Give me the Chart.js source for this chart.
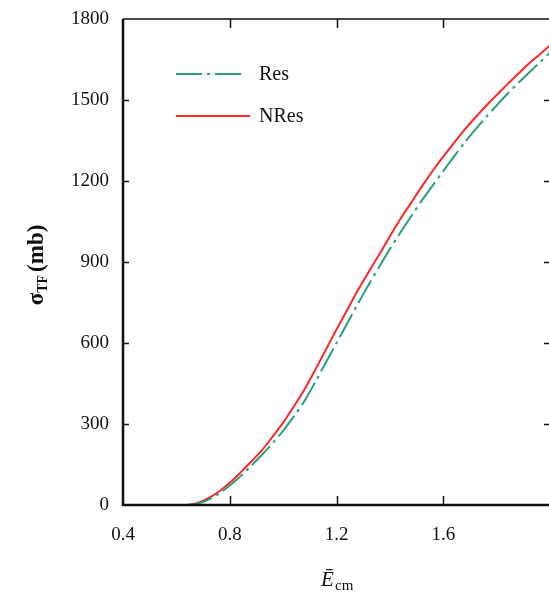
<!DOCTYPE html>
<html>
<head>
<meta charset="utf-8">
<script src="https://cdn.jsdelivr.net/npm/chart.js@4.4.1/dist/chart.umd.min.js"></script>
<style>
  html, body { margin: 0; padding: 0; background: #fff; overflow: hidden; }
  #wrap { width: 561px; height: 592px; }
</style>
</head>
<body>
<div id="wrap"><canvas id="sigmaChart" width="561" height="592"></canvas></div>
<script>
// reduced energy E_cm (x) and fusion cross section (mb)
const energies = [0.64, 0.68, 0.72, 0.76, 0.80, 0.84, 0.88, 0.92, 0.96, 1.00,
  1.04, 1.08, 1.12, 1.16, 1.20, 1.24, 1.28, 1.32, 1.36, 1.40,
  1.44, 1.48, 1.52, 1.56, 1.60, 1.64, 1.68, 1.72, 1.76, 1.80,
  1.84, 1.88, 1.92, 1.96, 2.00];
const resValues = [0, 5, 20, 42, 72, 106, 145, 185, 228, 275,
  328, 385, 455, 528, 600, 672, 745, 815, 882, 948,
  1010, 1070, 1128, 1183, 1237, 1290, 1342, 1390, 1436, 1480,
  1522, 1562, 1600, 1638, 1675];
const nresValues = [0, 8, 25, 50, 82, 120, 160, 202, 252, 305,
  365, 428, 500, 575, 650, 722, 795, 862, 928, 995,
  1060, 1120, 1180, 1237, 1290, 1340, 1390, 1435, 1478, 1518,
  1558, 1596, 1634, 1668, 1702];
const seriesNames = ['Res', 'NRes'];
const xTickValues = [0.4, 0.8, 1.2, 1.6, 2.0];
const yTickValues = [0, 300, 600, 900, 1200, 1500, 1800];

const SERIF = '"Liberation Serif", "DejaVu Serif", serif';
const GREEN = '#27a07a';
const RED = '#ff2626';

const toPoints = vals => energies.map((e, i) => ({ x: e, y: vals[i] }));

// frame, inward ticks, legend and axis titles
const framePlugin = {
  id: 'framePlugin',
  afterDraw(chart) {
    const ctx = chart.ctx;
    const a = chart.chartArea;
    const xs = chart.scales.x, ys = chart.scales.y;
    ctx.save();
    ctx.strokeStyle = '#111';

    // thin top / right
    ctx.lineWidth = 1.5;
    ctx.beginPath();
    ctx.moveTo(a.left, a.top); ctx.lineTo(a.right, a.top); ctx.lineTo(a.right, a.bottom);
    ctx.stroke();
    // thick left / bottom
    ctx.lineWidth = 2.5;
    ctx.beginPath();
    ctx.moveTo(a.left, a.top); ctx.lineTo(a.left, a.bottom); ctx.lineTo(a.right, a.bottom);
    ctx.stroke();

    ctx.lineWidth = 1.5;
    ctx.beginPath();
    xTickValues.forEach(v => {
      const px = Math.round(xs.getPixelForValue(v)) + 0.5;
      if (px <= a.left + 2 || px >= a.right - 2) return;
      ctx.moveTo(px, a.bottom); ctx.lineTo(px, a.bottom - 9);
      ctx.moveTo(px, a.top); ctx.lineTo(px, a.top + 9);
    });
    yTickValues.forEach(v => {
      const py = Math.round(ys.getPixelForValue(v)) + 0.5;
      if (py <= a.top + 2 || py >= a.bottom - 2) return;
      ctx.moveTo(a.left, py); ctx.lineTo(a.left + 6, py);
      ctx.moveTo(a.right, py); ctx.lineTo(a.right - 6, py);
    });
    ctx.stroke();

    // legend
    const ds = chart.data.datasets;
    const rows = [74, 116];
    ds.forEach((d, i) => {
      ctx.strokeStyle = d.borderColor;
      ctx.lineWidth = d.borderWidth;
      ctx.setLineDash(d.borderDash || []);
      ctx.beginPath();
      ctx.moveTo(176, rows[i]); ctx.lineTo(i === 0 ? 246 : 250, rows[i]);
      ctx.stroke();
      ctx.setLineDash([]);
      ctx.fillStyle = '#111';
      ctx.font = '20px ' + SERIF;
      ctx.textAlign = 'left';
      ctx.textBaseline = 'middle';
      ctx.fillText(d.label, 259, rows[i] + 1);
    });

    // x title: E bar with subscript cm
    ctx.fillStyle = '#111';
    ctx.textBaseline = 'alphabetic';
    ctx.textAlign = 'left';
    ctx.font = 'italic 21px ' + SERIF;
    ctx.fillText('\u0112', 321, 586);
    ctx.font = '15px ' + SERIF;
    ctx.fillText('cm', 335, 590);

    // y title: sigma_TF (mb), rotated
    ctx.translate(36, 265);
    ctx.rotate(-Math.PI / 2);
    ctx.textAlign = 'left';
    ctx.font = 'bold 23px ' + SERIF;
    const w1 = ctx.measureText('\u03c3').width;
    ctx.font = 'bold 14px ' + SERIF;
    const w2 = ctx.measureText('TF').width;
    ctx.font = 'bold 23px ' + SERIF;
    const w3 = ctx.measureText('(mb)').width;
    let sx = -(w1 + w2 + w3 + 3) / 2;
    ctx.fillText('\u03c3', sx, 7);
    sx += w1;
    ctx.font = 'bold 14px ' + SERIF;
    ctx.fillText('TF', sx, 11);
    sx += w2 + 3;
    ctx.font = 'bold 23px ' + SERIF;
    ctx.fillText('(mb)', sx, 7);

    ctx.restore();
  }
};

new Chart(document.getElementById('sigmaChart'), {
  type: 'line',
  data: {
    datasets: [
      {
        label: seriesNames[0],
        data: toPoints(resValues),
        borderColor: GREEN,
        borderWidth: 2,
        borderDash: [26, 5, 3, 5],
        pointRadius: 0,
        tension: 0.3,
        fill: false
      },
      {
        label: seriesNames[1],
        data: toPoints(nresValues),
        borderColor: RED,
        borderWidth: 2,
        pointRadius: 0,
        tension: 0.3,
        fill: false
      }
    ]
  },
  options: {
    responsive: false,
    animation: false,
    events: [],
    layout: { padding: { top: 19, right: 7, left: 0, bottom: 0 } },
    plugins: {
      legend: { display: false },
      tooltip: { enabled: false }
    },
    scales: {
      x: {
        type: 'linear',
        min: 0.4,
        max: 2.0,
        grid: { display: false },
        border: { display: false },
        afterFit: s => { s.height = 87; },
        afterBuildTicks: s => { s.ticks = xTickValues.map(v => ({ value: v })); },
        ticks: {
          padding: 11,
          color: '#111',
          font: { family: SERIF, size: 19 },
          maxRotation: 0,
          callback: v => (v >= 2 ? '' : v.toFixed(1))
        }
      },
      y: {
        min: 0,
        max: 1800,
        grid: { display: false },
        border: { display: false },
        afterFit: s => { s.width = 123; },
        afterBuildTicks: s => { s.ticks = yTickValues.map(v => ({ value: v })); },
        ticks: {
          padding: 6,
          color: '#111',
          font: { family: SERIF, size: 19 },
          callback: v => String(v)
        }
      }
    }
  },
  plugins: [framePlugin]
});
</script>
</body>
</html>
